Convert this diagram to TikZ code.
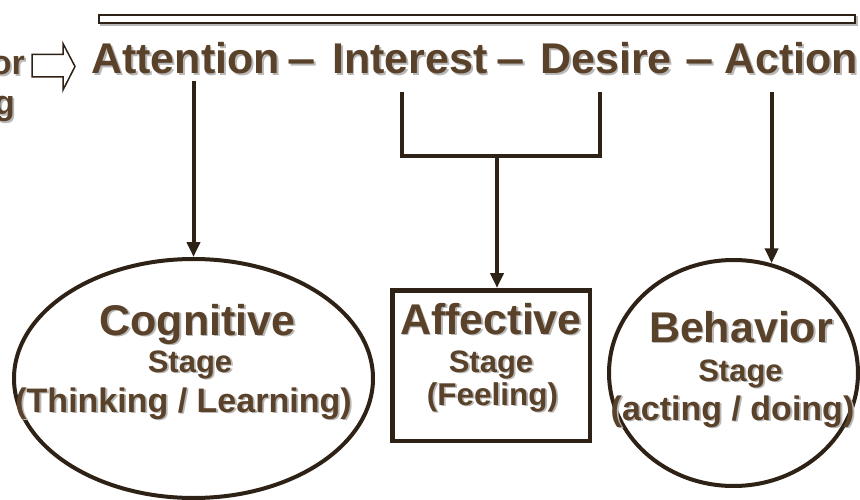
\documentclass[tikz,border=0pt]{standalone}
\usepackage{fontspec}
\setmainfont{Liberation Sans}
\usetikzlibrary{arrows.meta,shapes.geometric}
\definecolor{txtbrown}{HTML}{5A4129}
\definecolor{linebrown}{HTML}{2E2116}
\definecolor{shadowgray}{HTML}{B8B8B8}
\newcommand\fsz[1]{\fontsize{#1}{#1}\selectfont\bfseries}
\newcommand\stxt[5][base]{%
  \node[shd,anchor=#1,font=\fsz{#4}] at ([xshift=1.8pt,yshift=-1.8pt]#3) {#5};
  \node[txt,anchor=#1,font=\fsz{#4}] (#2) at (#3) {#5};}
\newcommand\wdash{\scalebox{1.18}[1]{–}}
\begin{document}
\begin{tikzpicture}[x=1pt,y=-1pt,
  txt/.style={inner sep=0pt,text=txtbrown},
  shd/.style={inner sep=0pt,text=shadowgray},
  conn/.style={draw=linebrown,line width=4pt},
  arr/.style={conn,-{Triangle[length=15pt,width=13pt]}},
  stageoval/.style={draw=linebrown,line width=4pt,ellipse,inner sep=0pt,fill=white},
  stagebox/.style={draw=linebrown,line width=4.5pt,rectangle,inner sep=0pt,fill=white}]
\useasboundingbox (0,0) rectangle (860,500);
\fill[white] (0,0) rectangle (860,500);

% top bar
\fill[shadowgray] (100,16) rectangle (858,26);
\node[draw=linebrown,line width=2pt,fill=white,minimum width=756pt,minimum height=8pt,inner sep=0pt] (bar) at (477,19) {};

% block arrow
\draw[line width=1.5pt,draw=linebrown,fill=white,line join=miter]
  (32,54.5) -- (63,54.5) -- (63,43.5) -- (75,66.5) -- (63,90) -- (63,77) -- (32,77) -- cycle;

% left (cut) text
\stxt[base east]{lt1}{25,75}{34}{or}
\stxt[base east]{lt2}{15,115}{34}{g}

% heading
\stxt[base west]{att}{91,74}{43}{Attention}
\stxt{d1}{302,74}{43}{\wdash}
\stxt[base west]{int}{332,74}{43}{Interest}
\stxt{d2}{511,74}{43}{\wdash}
\stxt[base west]{des}{540,74}{43}{Desire}
\stxt{d3}{699.5,74}{43}{\wdash}
\stxt[base west]{act}{724,74}{43}{Action}

% stage shapes
\node[stageoval,minimum width=359pt,minimum height=239pt] (cog) at (193.5,378.5) {};
\node[stagebox,minimum width=197.5pt,minimum height=150.5pt] (aff) at (491,365.5) {};
\node[stageoval,minimum width=249pt,minimum height=226pt] (beh) at (733.5,373) {};

% stage texts
\stxt{cog1}{197.5,335}{43}{Cognitive}
\stxt{cog2}{190,372}{31}{Stage}
\stxt{cog3}{183.5,412}{34}{(Thinking / Learning)}
\stxt{aff1}{491,334}{43}{Affective}
\stxt{aff2}{491,372}{31}{Stage}
\stxt{aff3}{492.5,405}{31.5}{(Feeling)}
\stxt{beh1}{741,342}{43}{Behavior}
\stxt{beh2}{740.5,381}{31}{Stage}
\stxt{beh3}{732.5,420}{34}{(acting / doing)}

% connectors
\path (att.south -| cog.north) ++(0,6) coordinate (a0);
\draw[arr] (a0) -- (cog.north);

\path (int.south) ++(-8,17) coordinate (b1);
\path (des.south) ++(-5.5,17) coordinate (b2);
\coordinate (j) at (497,156);
\draw[conn] (b1) |- (j) -| (b2);
\draw[arr] (j) -- (j |- aff.north);

\path (act.south) ++(-19.5,17) coordinate (c1);
\draw[arr] (c1) -- (c1 |- beh.71);
\end{tikzpicture}
\end{document}
